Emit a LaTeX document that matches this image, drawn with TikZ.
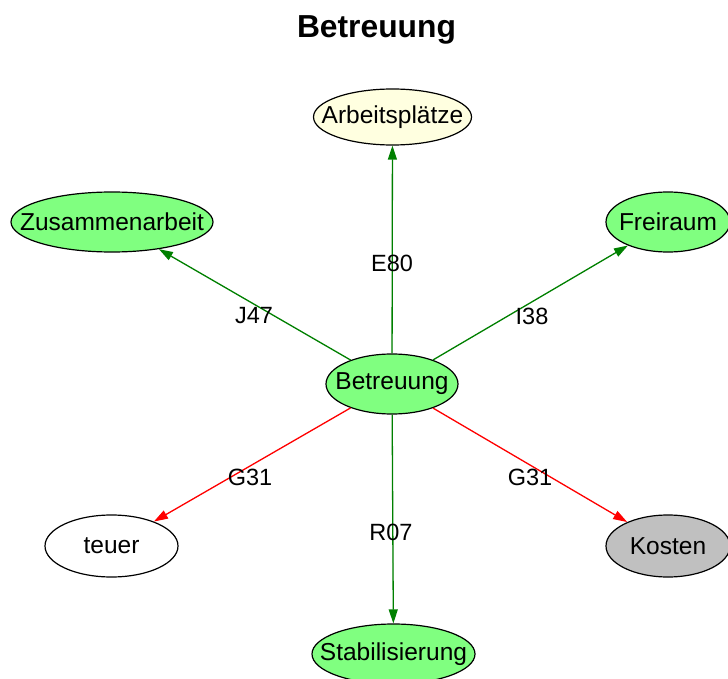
\documentclass[tikz,border=0pt]{standalone}
\usepackage{fontspec}
\setmainfont{Liberation Sans}
\usetikzlibrary{shapes.geometric,arrows.meta}
\definecolor{nodegreen}{HTML}{80FF80}
\definecolor{nodeyellow}{HTML}{FFFFE0}
\definecolor{nodegrey}{HTML}{C0C0C0}
\definecolor{edgegreen}{HTML}{008000}
\definecolor{edgered}{HTML}{FF0000}
% zero-width text so the ellipse keeps its fixed size
\newcommand\ctxt[1]{\makebox[0pt]{#1}}
\tikzset{
  concept/.style={ellipse, draw=black, line width=1.2pt, inner sep=0pt,
    minimum height=60pt, font=\fontsize{24.5}{28}\selectfont},
  rel/.style={line width=1.3pt, -{Triangle[length=14pt,width=9pt]}},
  pos rel/.style={rel, draw=edgegreen, fill=edgegreen},
  neg rel/.style={rel, draw=edgered, fill=edgered},
  code/.style={font=\fontsize{23.5}{26}\selectfont, inner sep=0pt}
}
\begin{document}
\begin{tikzpicture}[x=1pt,y=-1pt]
  \useasboundingbox (0,0) rectangle (728,679);
  \fill[white] (0,0) rectangle (728,679);

  \node[font=\fontsize{31.8}{36}\selectfont\bfseries] (title) at (376.5,30) {Betreuung};

  \node[concept, fill=nodegreen, minimum width=132pt] (center) at (392,384) {\ctxt{Betreuung}};
  \node[concept, fill=nodeyellow, minimum width=158pt, minimum height=56pt] (arb) at (392.5,117) {\ctxt{Arbeitsplätze}};
  \node[concept, fill=nodegreen, minimum width=202pt] (zus) at (112,222) {\ctxt{Zusammenarbeit}};
  \node[concept, fill=nodegreen, minimum width=124pt] (frei) at (668,222) {\ctxt{Freiraum}};
  \node[concept, fill=white, minimum width=133pt, minimum height=62pt] (teuer) at (111.5,546) {\ctxt{teuer}};
  \node[concept, fill=nodegrey, minimum width=124pt, minimum height=62pt] (kosten) at (668,546) {\ctxt{Kosten}};
  \node[concept, fill=nodegreen, minimum width=163pt] (stab) at (393.5,654) {\ctxt{Stabilisierung}};

  \draw[pos rel] (center) -- (arb);
  \draw[pos rel] (center) -- (zus);
  \draw[pos rel] (center) -- (frei);
  \draw[neg rel] (center) -- (teuer);
  \draw[neg rel] (center) -- (kosten);
  \draw[pos rel] (center) -- (stab);

  \node[code] (lE) at (392,263) {E80};
  \node[code] (lJ) at (254,316) {J47};
  \node[code] (lI) at (532,316) {I38};
  \node[code] (lG1) at (250,477) {G31};
  \node[code] (lR) at (391,532) {R07};
  \node[code] (lG2) at (530,477) {G31};
\end{tikzpicture}
\end{document}
